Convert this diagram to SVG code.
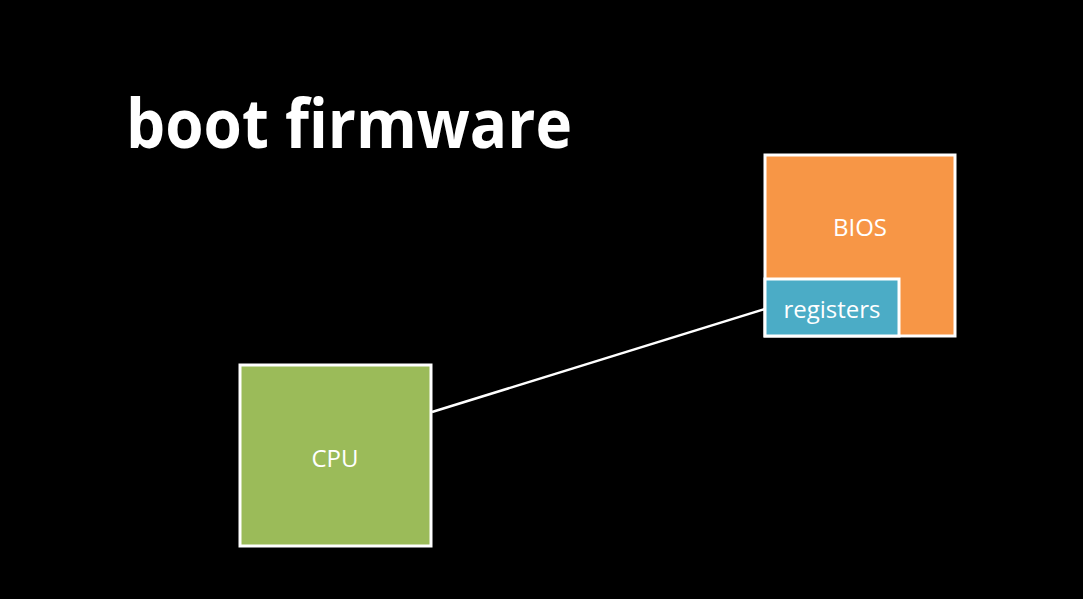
<svg xmlns="http://www.w3.org/2000/svg" width="1083" height="599" viewBox="0 0 1083 599">
<style>
.box{stroke:#ffffff;stroke-width:3}
.lbl{font-family:"Open Sans","Liberation Sans",sans-serif;font-size:24px;fill:#ffffff;text-anchor:middle;dominant-baseline:central}
.title{font-family:"Open Sans","Liberation Sans",sans-serif;font-weight:bold;font-size:68px;fill:#ffffff}
</style>
<rect x="0" y="0" width="1083" height="599" fill="#000000"/>
<text class="title" x="126" y="148" textLength="446" lengthAdjust="spacingAndGlyphs">boot firmware</text>
<g id="connectors">
<line x1="432" y1="412" x2="765" y2="309" stroke="#ffffff" stroke-width="2.5"/>
</g>
<g id="bios">
<rect class="box" x="765" y="155" width="190" height="181" fill="#F79646"/>
<text class="lbl" x="860" y="226">BIOS</text>
</g>
<g id="registers">
<rect class="box" x="765" y="279" width="134" height="57" fill="#4BACC6"/>
<text class="lbl" x="832" y="308">registers</text>
</g>
<g id="cpu">
<rect class="box" x="240" y="365" width="191" height="181" fill="#9BBB59"/>
<text class="lbl" x="335" y="457">CPU</text>
</g>
</svg>
